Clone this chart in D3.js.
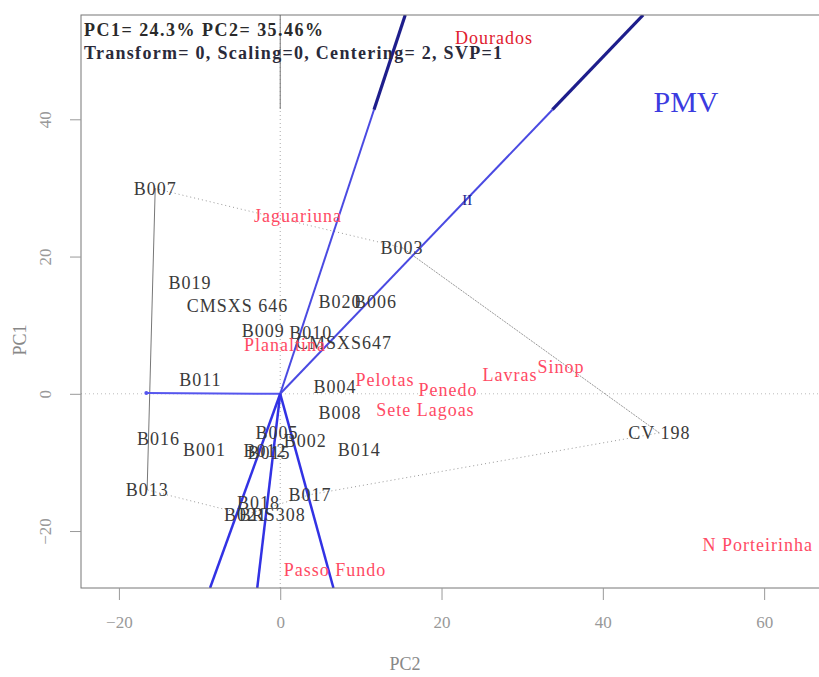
<!DOCTYPE html>
<html>
<head>
<meta charset="utf-8">
<script src="https://cdn.jsdelivr.net/npm/d3@7"></script>
<style>
  body { margin: 0; background: #fff; }
  svg { display: block; font-family: "Liberation Serif", "DejaVu Serif", serif; }
</style>
</head>
<body>
<svg width="819" height="677"></svg>
<script>
const width = 819;
const height = 677;
const margin = {top: 15, right: 0, bottom: 89, left: 81};

// genotypes (x = PC2, y = PC1)
const genotypes = ["B007", "B019", "CMSXS 646", "B009", "B010", "B020", "B006", "CMSXS647", "B003",
                   "B011", "B004", "B008", "B016", "B001", "B005", "B002", "B012", "B015", "B014",
                   "B013", "B017", "B018", "B021", "BRS308", "CV 198"];
const genoPC2 = [-15.5, -11.2, -5.3, -2.1, 3.8, 7.4, 11.8, 7.9, 15.1,
                 -9.9, 6.8, 7.4, -15.1, -9.4, -0.4, 3.1, -1.9, -1.4, 9.8,
                 -16.5, 3.7, -2.7, -4.3, -1.0, 47.0];
const genoPC1 = [29.9, 16.2, 12.8, 9.1, 8.8, 13.4, 13.4, 7.4, 21.3,
                 2.0, 1.0, -2.8, -6.6, -8.2, -5.7, -6.9, -8.4, -8.6, -8.2,
                 -14.0, -14.7, -15.9, -17.6, -17.6, -5.7];

// environments
const environments = ["Dourados", "Jaguariuna", "Planaltina", "Pelotas", "Penedo", "Lavras",
                      "Sinop", "Sete Lagoas", "Passo Fundo", "N Porteirinha"];
const envPC2 = [26.5, 2.2, 0.6, 13.0, 20.8, 28.5, 34.8, 18.0, 6.8, 59.2];
const envPC1 = [51.9, 25.9, 7.1, 2.0, 0.6, 2.8, 3.9, -2.3, -25.7, -22.0];

// polygon (which-won-where) vertices and edge line types
const hull = ["B007", "B003", "CV 198", "B017", "B021", "B013"];
const hullDash = ["1,3", "2,1", "1,3", "1,3", "1,3", null];

// perpendicular rays from the origin
const rayPC2 = [-16.6, 15.5, 45.0, -8.7, -2.85, 6.6];
const rayPC1 = [0.1, 55.2, 55.2, -28.3, -28.3, -28.3];
const rayOuter = [null, 0.75, 0.75, null, null, null];

const xTicks = [-20, 0, 20, 40, 60];
const yTicks = [-20, 0, 20, 40];

const svg = d3.select('svg');

const xScale = d3.scaleLinear()
                  .domain([-24.7, 66.8])
                  .range([margin.left, width - margin.right]);
const yScale = d3.scaleLinear()
                  .domain([-28.3, 55.2])
                  .range([height - margin.bottom, margin.top]);

svg.append('clipPath')
    .attr('id', 'plot')
  .append('rect')
    .attr('x', margin.left)
    .attr('y', margin.top)
    .attr('width', width - margin.left - margin.right)
    .attr('height', height - margin.top - margin.bottom);

const plot = svg.append('g').attr('clip-path', 'url(#plot)');

// reference lines through the origin
plot.append('line')
    .attr('x1', xScale(0)).attr('x2', xScale(0))
    .attr('y1', yScale(55.2)).attr('y2', yScale(-28.3))
    .attr('stroke', '#aaa').attr('stroke-dasharray', '1,3');
plot.append('line')
    .attr('x1', xScale(-24.7)).attr('x2', xScale(66.8))
    .attr('y1', yScale(0)).attr('y2', yScale(0))
    .attr('stroke', '#bbb').attr('stroke-dasharray', '1,3');
plot.append('line')
    .attr('x1', xScale(0)).attr('x2', xScale(0))
    .attr('y1', yScale(55.2)).attr('y2', yScale(41.5))
    .attr('stroke', '#777');

// polygon
const gIndex = name => genotypes.indexOf(name);
hull.forEach((name, i) => {
    const a = gIndex(name);
    const b = gIndex(hull[(i + 1) % hull.length]);
    plot.append('line')
        .attr('x1', xScale(genoPC2[a])).attr('y1', yScale(genoPC1[a]))
        .attr('x2', xScale(genoPC2[b])).attr('y2', yScale(genoPC1[b]))
        .attr('stroke', hullDash[i] ? '#999' : '#777')
        .attr('stroke-width', 1)
        .attr('stroke-dasharray', hullDash[i]);
});

// rays
rayPC2.forEach((px, i) => {
    const x0 = xScale(0), y0 = yScale(0);
    const x1 = xScale(px), y1 = yScale(rayPC1[i]);
    if (rayOuter[i] === null) {
        plot.append('line')
            .attr('x1', x0).attr('y1', y0).attr('x2', x1).attr('y2', y1)
            .attr('stroke', i === 0 ? '#5656ee' : '#3232e4')
            .attr('stroke-width', i === 0 ? 2 : 2.5);
    } else {
        const f = rayOuter[i];
        const xm = x0 + (x1 - x0) * f, ym = y0 + (y1 - y0) * f;
        plot.append('line')
            .attr('x1', x0).attr('y1', y0).attr('x2', xm).attr('y2', ym)
            .attr('stroke', '#4a4ae2').attr('stroke-width', 2);
        plot.append('line')
            .attr('x1', xm).attr('y1', ym).attr('x2', x1).attr('y2', y1)
            .attr('stroke', '#1e1e8c').attr('stroke-width', 3.2);
    }
});
plot.append('circle')
    .attr('cx', xScale(rayPC2[0])).attr('cy', yScale(rayPC1[0]))
    .attr('r', 2).attr('fill', '#5656ee');

// mega-environment mark
plot.append('text')
    .text('II')
    .attr('x', xScale(23.2)).attr('y', yScale(28.3))
    .attr('text-anchor', 'middle').attr('dominant-baseline', 'central')
    .attr('font-size', '15px').attr('fill', '#1e1e8c');

// labels
plot.selectAll('.geno')
    .data(genotypes)
    .enter()
    .append('text')
        .classed('geno', true)
        .text(d => d)
        .attr('x', (d, i) => xScale(genoPC2[i]))
        .attr('y', (d, i) => yScale(genoPC1[i]))
        .attr('text-anchor', 'middle')
        .attr('dominant-baseline', 'central')
        .attr('font-size', '18px')
        .attr('letter-spacing', '1px')
        .attr('fill', '#3a3a3a');

plot.selectAll('.env')
    .data(environments)
    .enter()
    .append('text')
        .classed('env', true)
        .text(d => d)
        .attr('x', (d, i) => xScale(envPC2[i]))
        .attr('y', (d, i) => yScale(envPC1[i]))
        .attr('text-anchor', 'middle')
        .attr('dominant-baseline', 'central')
        .attr('font-size', '18px')
        .attr('letter-spacing', '1px')
        .attr('fill', (d, i) => i === 0 ? '#e0202e' : '#ff4a64');

svg.append('text')
    .text('PMV')
    .attr('x', 686).attr('y', 112)
    .attr('text-anchor', 'middle')
    .attr('font-size', '30px')
    .attr('fill', '#3b3be0');

// header
svg.append('text')
    .text('PC1= 24.3% PC2= 35.46%')
    .attr('x', 84).attr('y', 36)
    .attr('font-size', '18px').attr('font-weight', 'bold')
    .attr('textLength', 239).attr('lengthAdjust', 'spacing')
    .attr('fill', '#2a2a2a');
svg.append('text')
    .text('Transform= 0, Scaling=0, Centering= 2, SVP=1')
    .attr('x', 84).attr('y', 59)
    .attr('font-size', '18px').attr('font-weight', 'bold')
    .attr('textLength', 418).attr('lengthAdjust', 'spacing')
    .attr('fill', '#2a2a3a');

// box
svg.append('rect')
    .attr('x', margin.left).attr('y', margin.top)
    .attr('width', width - margin.left + 5)
    .attr('height', height - margin.top - margin.bottom)
    .attr('fill', 'none').attr('stroke', '#777');

// axes
const xAxis = d3.axisBottom(xScale)
                  .tickValues(xTicks)
                  .tickSize(12)
                  .tickPadding(16);
const yAxis = d3.axisLeft(yScale)
                  .tickValues(yTicks)
                  .tickSize(11);

const gx = svg.append('g')
    .attr('transform', 'translate(0,' + (height - margin.bottom) + ')')
    .call(xAxis);
const gy = svg.append('g')
    .attr('transform', 'translate(' + margin.left + ',0)')
    .call(yAxis);

[gx, gy].forEach(g => {
    g.select('.domain').remove();
    g.selectAll('line').attr('stroke', '#999');
    g.selectAll('text')
        .attr('fill', '#999')
        .attr('font-size', '17px')
        .attr('font-family', '"Liberation Serif", serif');
});
gy.selectAll('text')
    .attr('transform', 'rotate(-90)')
    .attr('text-anchor', 'middle')
    .attr('x', 0)
    .attr('y', -36)
    .attr('dy', '0.35em');

svg.append('text')
    .text('PC2')
    .attr('x', 405).attr('y', 670)
    .attr('text-anchor', 'middle')
    .attr('font-size', '18px')
    .attr('fill', '#888');
svg.append('text')
    .text('PC1')
    .attr('transform', 'translate(26,340) rotate(-90)')
    .attr('text-anchor', 'middle')
    .attr('font-size', '18px')
    .attr('fill', '#888');
</script>
</body>
</html>
